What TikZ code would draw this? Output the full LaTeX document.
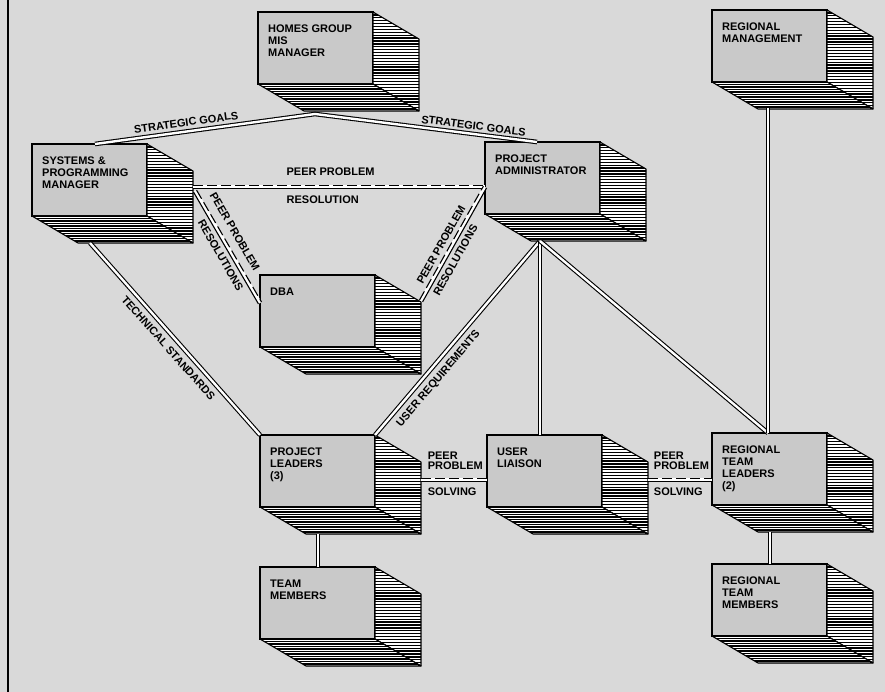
\documentclass[tikz,border=0pt]{standalone}
\usepackage{fontspec}
\setmainfont{Liberation Sans}
\usetikzlibrary{calc}
\definecolor{bgcol}{gray}{0.85}
\definecolor{facecol}{gray}{0.79}
\tikzset{
  face/.style={draw, line width=1.1pt, fill=facecol, minimum width=115pt, minimum height=72pt,
    anchor=north west, inner sep=0pt, outer sep=0pt},
  boxlabel/.style={anchor=north west, xshift=10pt, yshift=-12.5pt, inner sep=0pt, align=left,
    font=\fontsize{11}{12}\selectfont\bfseries},
  outline/.style={draw, line width=1.1pt, line join=round},
  hatch/.style={draw, line width=1.3pt},
  hatchdark/.style={draw, line width=1.95pt},
  conn/.style={draw=black, double=white, line width=1.1pt, double distance=2.4pt},
  rail/.style={draw=black, line width=1.1pt},
  lbl/.style={inner sep=0pt, font=\fontsize{11}{10.5}\selectfont\bfseries, align=left},
}
\newcommand\orgbox[4]{%
  \node[face, label={[boxlabel]north west:#4}] (#1) at (#2,#3) {};
  \fill[white] (#1.north east) -- ++(46,27) -- ++(0,72) -- (#1.south east) -- cycle;
  \begin{scope}
    \clip (#1.north east) -- ++(46,27) -- ++(0,72) -- (#1.south east) -- cycle;
    \foreach \k in {0,...,34} \draw[hatch] ($(#1.north east)+(0,2.9*\k)$) -- ++(50,0);
  \end{scope}
  \draw[outline] (#1.north east) -- ++(46,27) -- ++(0,72) -- (#1.south east) -- cycle;
  \fill[white] (#1.south west) -- (#1.south east) -- ++(46,27) -- ++(-115,0) -- cycle;
  \begin{scope}
    \clip (#1.south west) -- (#1.south east) -- ++(46,27) -- ++(-115,0) -- cycle;
    \foreach \k in {0,...,11} \draw[hatchdark] ($(#1.south west)+(0,2.5*\k)$) -- ++(165,0);
  \end{scope}
  \draw[outline] (#1.south west) -- (#1.south east) -- ++(46,27) -- ++(-115,0) -- cycle;
}
\newcommand\peerline[3]{%
  \draw[white, line width=3.6pt] (#1) -- (#2);
  \draw[rail] ($(#1)!1.8pt!-90:(#2)$) -- ($(#2)!1.8pt!90:(#1)$);
  \draw[rail, dash pattern=on 10pt off 4pt] ($(#1)!1.8pt!90:(#2)$) -- ($(#2)!1.8pt!-90:(#1)$);
  \path (#1) -- (#2) #3;
}
\begin{document}
\begin{tikzpicture}[x=1pt,y=-1pt]
\useasboundingbox (0,0) rectangle (885,692);
\fill[bgcol] (0,0) rectangle (885,692);
\draw[line width=2pt] (8,0) -- (8,692);

% boxes
\orgbox{hg}{258}{12}{HOMES GROUP\\MIS\\MANAGER}
\orgbox{spm}{32}{144}{SYSTEMS \&\\PROGRAMMING\\MANAGER}
\orgbox{pa}{485}{142}{PROJECT\\ADMINISTRATOR}
\orgbox{rm}{712}{10}{REGIONAL\\MANAGEMENT}
\orgbox{dba}{260}{275}{DBA}
\orgbox{pl}{260}{435}{PROJECT\\LEADERS\\(3)}
\orgbox{tm}{260}{567}{TEAM\\MEMBERS}
\orgbox{ul}{487}{435}{USER\\LIAISON}
\orgbox{rtl}{712}{433}{REGIONAL\\TEAM\\LEADERS\\(2)}
\orgbox{rtm}{712}{564}{REGIONAL\\TEAM\\MEMBERS}

% connection points
\coordinate (sgtop) at (315,114);
\coordinate (spmtop) at ($(spm.north west)+(63,0)$);
\coordinate (patop) at ($(pa.north west)+(52,0)$);
\coordinate (spmr) at ($(spm.north east)+(46,43)$);
\coordinate (spmr2) at ($(spm.north east)+(48,47)$);
\coordinate (pal) at ($(pa.north west)+(0,45)$);
\coordinate (dbal) at ($(dba.north west)+(0,28)$);
\coordinate (dbar) at ($(dba.north east)+(46,26)$);
\coordinate (spmb) at ($(spm.south west)+(58,27)$);
\coordinate (pajn) at ($(pa.south west)+(55,27)$);
\coordinate (ultop) at ($(ul.north west)+(53,0)$);
\coordinate (rtltop) at ($(rtl.north west)+(56,0)$);
\coordinate (rmb) at ($(rm.south west)+(56,26)$);
\coordinate (plr) at ($(pl.north east)+(46,45)$);
\coordinate (ull) at ($(ul.north west)+(0,45)$);
\coordinate (ulr) at ($(ul.north east)+(46,45)$);
\coordinate (rtll) at ($(rtl.north west)+(0,47)$);
\coordinate (plb) at ($(pl.south west)+(58,27)$);
\coordinate (tmtop) at ($(tm.north west)+(58,0)$);
\coordinate (rtlb) at ($(rtl.south west)+(58,27)$);
\coordinate (rtmtop) at ($(rtm.north west)+(58,0)$);

% solid connectors
\draw[conn] (spmtop) -- (sgtop) -- (patop);
\path (spmtop) -- node[lbl, pos=.42, above=5pt, sloped]{STRATEGIC GOALS} (sgtop);
\path (sgtop) -- node[lbl, pos=.71, above=4pt, sloped]{STRATEGIC GOALS} (patop);
\draw[conn] (spmb) -- (pl.north west);
\path (spmb) -- node[lbl, pos=.51, below=7pt, sloped]{TECHNICAL STANDARDS} (pl.north west);
\draw[conn] (pl.north east) -- (pajn);
\path (pl.north east) -- node[lbl, pos=.33, below=7pt, sloped]{USER REQUIREMENTS} (pajn);
\draw[conn] (pajn) -- (ultop);
\draw[conn] (pajn) -- (rtltop);
\draw[conn] (rmb) -- (rtltop);
\draw[conn] (plb) -- (tmtop);
\draw[conn] (rtlb) -- (rtmtop);

% peer connectors
\peerline{spmr}{pal}{node[lbl, pos=.32, anchor=south west, yshift=11pt]{PEER PROBLEM}
  node[lbl, pos=.32, anchor=north west, yshift=-9pt]{RESOLUTION}}
\peerline{spmr2}{dbal}{node[lbl, pos=.425, above=10pt, sloped]{PEER PROBLEM}
  node[lbl, pos=.53, below=6pt, sloped]{RESOLUTIONS}}
\peerline{dbar}{pal}{node[lbl, pos=.45, above=6pt, sloped]{PEER PROBLEM}
  node[lbl, pos=.40, below=6pt, sloped]{RESOLUTIONS}}
\peerline{plr}{ull}{node[lbl, pos=.1, anchor=south west, yshift=10pt]{PEER\\PROBLEM}
  node[lbl, pos=.1, anchor=north west, yshift=-8pt]{SOLVING}}
\peerline{ulr}{rtll}{node[lbl, pos=.09, anchor=south west, yshift=10pt]{PEER\\PROBLEM}
  node[lbl, pos=.09, anchor=north west, yshift=-8pt]{SOLVING}}
\end{tikzpicture}
\end{document}
